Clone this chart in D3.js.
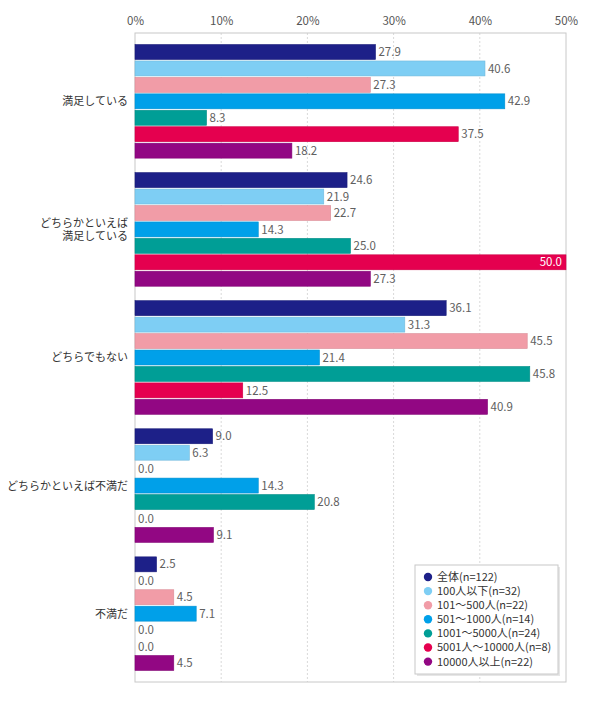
<!DOCTYPE html>
<html><head><meta charset="utf-8">
<script src="https://cdn.jsdelivr.net/npm/d3@7/dist/d3.min.js"></script>
<style>
body{margin:0;background:#fff;}
text{font-family:"Noto Sans CJK JP","Noto Sans",sans-serif;}
</style></head>
<body><svg id="c" width="590" height="702"></svg>
<script>
const categories = ["満足している","どちらかといえば\n満足している","どちらでもない","どちらかといえば不満だ","不満だ"];
const seriesNames = ["全体(n=122)","100人以下(n=32)","101～500人(n=22)","501～1000人(n=14)","1001～5000人(n=24)","5001人～10000人(n=8)","10000人以上(n=22)"];
const seriesColors = ["#1d2088","#7ecef4","#f19ca7","#00a0e9","#009e96","#e5004f","#920783"];
const s0 = [27.9,24.6,36.1,9.0,2.5];
const s1 = [40.6,21.9,31.3,6.3,0.0];
const s2 = [27.3,22.7,45.5,0.0,4.5];
const s3 = [42.9,14.3,21.4,14.3,7.1];
const s4 = [8.3,25.0,45.8,20.8,0.0];
const s5 = [37.5,50.0,12.5,0.0,0.0];
const s6 = [18.2,27.3,40.9,9.1,4.5];
const series = [s0,s1,s2,s3,s4,s5,s6];
const tickValues = [0,10,20,30,40,50];

const svg = d3.select("#c");
const L=135, R=566, T=33, B=682;
const x = d3.scaleLinear().domain([0,50]).range([L,R]);
const y0 = d3.scaleBand().domain(d3.range(categories.length)).range([T,B]).paddingInner(0.113).paddingOuter(0.09);
const y1 = d3.scaleBand().domain(d3.range(series.length)).range([0,y0.bandwidth()]).paddingInner(0.09);

// grid
svg.append("g").selectAll("line").data(tickValues.slice(1,-1)).join("line")
  .attr("x1",d=>x(d)).attr("x2",d=>x(d)).attr("y1",T).attr("y2",B)
  .attr("stroke","#d9d9d9").attr("stroke-dasharray","2,2").attr("stroke-width",1);
// frame
svg.append("rect").attr("x",L).attr("y",T).attr("width",R-L).attr("height",B-T)
  .attr("fill","none").attr("stroke","#c8c8c8").attr("stroke-width",1);

// top axis
const ax = svg.append("g").attr("transform",`translate(0,${T})`)
  .call(d3.axisTop(x).tickValues(tickValues).tickFormat(d=>d+"%").tickSize(0).tickPadding(8));
ax.select(".domain").remove();
ax.selectAll("text").attr("fill","#555").attr("font-size",11.5).attr("font-family","\"Noto Sans CJK JP\",sans-serif");

// bars
const groups = svg.append("g").selectAll("g").data(categories).join("g")
  .attr("transform",(d,i)=>`translate(0,${y0(i)})`);
groups.each(function(cat,ci){
  const g = d3.select(this);
  series.forEach((s,si)=>{
    const v = s[ci];
    if (v>0) {
      g.append("rect").attr("x",x(0)).attr("y",y1(si)).attr("width",x(v)-x(0)).attr("height",y1.bandwidth())
        .attr("fill",seriesColors[si]).attr("stroke",d3.color(seriesColors[si]).darker(0.3)).attr("stroke-width",0.6);
    }
    const inside = v>=50;
    g.append("text").attr("x", inside ? x(v)-4 : x(v)+3).attr("y",y1(si)+y1.bandwidth()/2)
      .attr("dy","0.36em").attr("text-anchor",inside?"end":"start")
      .attr("font-size",11.5).attr("fill",inside?"#fff":"#606060").text(v.toFixed(1));
  });
  // category label
  const lines = cat.split("\n");
  const cy = y0.bandwidth()/2;
  const t = g.append("text").attr("text-anchor","end").attr("font-size",11).attr("fill","#333");
  lines.forEach((ln,li)=>{
    t.append("tspan").attr("x",128).attr("y",cy+(li-(lines.length-1)/2)*12.8).attr("dy","0.36em").text(ln);
  });
});

// legend
const lx=415, ly=565, lw=143, lh=109;
svg.append("rect").attr("x",lx+2).attr("y",ly+2).attr("width",lw).attr("height",lh).attr("fill","#e6e6e6");
svg.append("rect").attr("x",lx).attr("y",ly).attr("width",lw).attr("height",lh).attr("fill","#fff").attr("stroke","#c8c8c8");
const li = svg.append("g").selectAll("g").data(seriesNames).join("g")
  .attr("transform",(d,i)=>`translate(${lx},${ly+12+i*14.1})`);
li.append("circle").attr("cx",13).attr("cy",0).attr("r",4.2).attr("fill",(d,i)=>seriesColors[i]);
li.append("text").attr("x",22).attr("y",0).attr("dy","0.36em").attr("font-size",11).attr("fill","#333").text(d=>d);
</script></body></html>
